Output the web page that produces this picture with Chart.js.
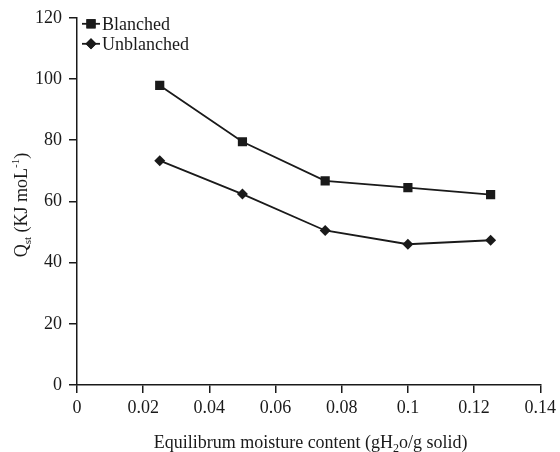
<!DOCTYPE html>
<html>
<head>
<meta charset="utf-8">
<script src="https://cdn.jsdelivr.net/npm/chart.js@4.4.1/dist/chart.umd.min.js"></script>
<style>
  html, body { margin: 0; padding: 0; background: #fff; }
  #wrap { width: 560px; height: 452px; }
</style>
</head>
<body>
<div id="wrap"><canvas id="chart"></canvas></div>
<script>
const moisture = [0.025, 0.05, 0.075, 0.1, 0.125];
const blanched = [97.9, 79.5, 66.7, 64.5, 62.2];
const unblanched = [73.3, 62.4, 50.5, 46.0, 47.3];
const xTickLabels = ["0", "0.02", "0.04", "0.06", "0.08", "0.1", "0.12", "0.14"];
const yTickLabels = ["0", "20", "40", "60", "80", "100", "120"];
const seriesNames = ["Blanched", "Unblanched"];

const FONT = "'Liberation Serif', 'Times New Roman', serif";
const INK = "#1a1a1a";

const toPoints = (ys) => ys.map((y, i) => ({ x: moisture[i], y }));

// draws a run of text pieces (sub/superscripts) starting at x on baseline y
function drawRich(ctx, parts, x, y) {
  parts.forEach((p) => {
    ctx.font = `${p.size}px ${FONT}`;
    ctx.fillText(p.t, x, y + (p.dy || 0));
    x += ctx.measureText(p.t).width;
  });
}

function richWidth(ctx, parts) {
  return parts.reduce((w, p) => {
    ctx.font = `${p.size}px ${FONT}`;
    return w + ctx.measureText(p.t).width;
  }, 0);
}

const extras = {
  id: "extras",
  afterDraw(chart) {
    const ctx = chart.ctx;
    const area = chart.chartArea;
    ctx.save();
    ctx.fillStyle = INK;
    ctx.strokeStyle = INK;
    ctx.textBaseline = "alphabetic";
    ctx.textAlign = "left";

    // legend (line + marker)
    const styles = ["rect", "rectRot"];
    const radii = [6.5, 5.5];
    seriesNames.forEach((name, i) => {
      const cy = area.top + 6 + i * 20;
      const x0 = area.left + 5;
      ctx.lineWidth = 1.8;
      ctx.beginPath();
      ctx.moveTo(x0, cy);
      ctx.lineTo(x0 + 18, cy);
      ctx.stroke();
      Chart.helpers.drawPoint(ctx, { pointStyle: styles[i], radius: radii[i], rotation: 0, borderWidth: 0 }, x0 + 9, cy);
      ctx.fill();
      ctx.font = `18px ${FONT}`;
      ctx.fillText(name, x0 + 20, cy + 6);
    });

    // x title
    const xParts = [
      { t: "Equilibrum moisture content (gH", size: 18 },
      { t: "2", size: 12, dy: 4 },
      { t: "o/g solid)", size: 18 },
    ];
    const xw = richWidth(ctx, xParts);
    drawRich(ctx, xParts, (area.left + area.right) / 2 + 2 - xw / 2, 448);

    // y title
    const yParts = [
      { t: "Q", size: 18 },
      { t: "st", size: 11, dy: 4 },
      { t: " (KJ moL", size: 18 },
      { t: "-1", size: 11, dy: -8 },
      { t: ")", size: 18 },
    ];
    const yw = richWidth(ctx, yParts);
    ctx.translate(27, 205);
    ctx.rotate(-Math.PI / 2);
    drawRich(ctx, yParts, -yw / 2, 0);
    ctx.restore();
  },
};

const axisCommon = {
  grid: { display: true, drawOnChartArea: false, drawTicks: true, tickLength: 8, color: INK, lineWidth: 1.5 },
  border: { display: true, color: INK, width: 1.5 },
};

new Chart(document.getElementById("chart"), {
  type: "line",
  data: {
    datasets: [
      {
        label: seriesNames[0],
        data: toPoints(blanched),
        borderColor: INK,
        backgroundColor: INK,
        borderWidth: 1.8,
        pointStyle: "rect",
        pointRadius: 6.5,
        pointBorderWidth: 0,
        tension: 0,
      },
      {
        label: seriesNames[1],
        data: toPoints(unblanched),
        borderColor: INK,
        backgroundColor: INK,
        borderWidth: 1.8,
        pointStyle: "rectRot",
        pointRadius: 5.5,
        pointBorderWidth: 0,
        tension: 0,
      },
    ],
  },
  options: {
    responsive: true,
    maintainAspectRatio: false,
    animation: false,
    layout: { padding: { left: 0, right: 19, top: 17, bottom: 0 } },
    plugins: { legend: { display: false }, tooltip: { enabled: false } },
    scales: {
      x: {
        type: "linear",
        min: 0,
        max: 0.14,
        ...axisCommon,
        ticks: {
          stepSize: 0.02,
          color: INK,
          padding: 4,
          maxRotation: 0,
          font: { family: FONT, size: 18 },
          callback: (v, i) => xTickLabels[i],
        },
        afterFit: (scale) => { scale.height = 67; },
      },
      y: {
        min: 0,
        max: 120,
        ...axisCommon,
        ticks: {
          stepSize: 20,
          color: INK,
          padding: 7,
          font: { family: FONT, size: 18 },
          callback: (v, i) => yTickLabels[i],
        },
        afterFit: (scale) => { scale.width = 77; },
      },
    },
  },
  plugins: [extras],
});
</script>
</body>
</html>
